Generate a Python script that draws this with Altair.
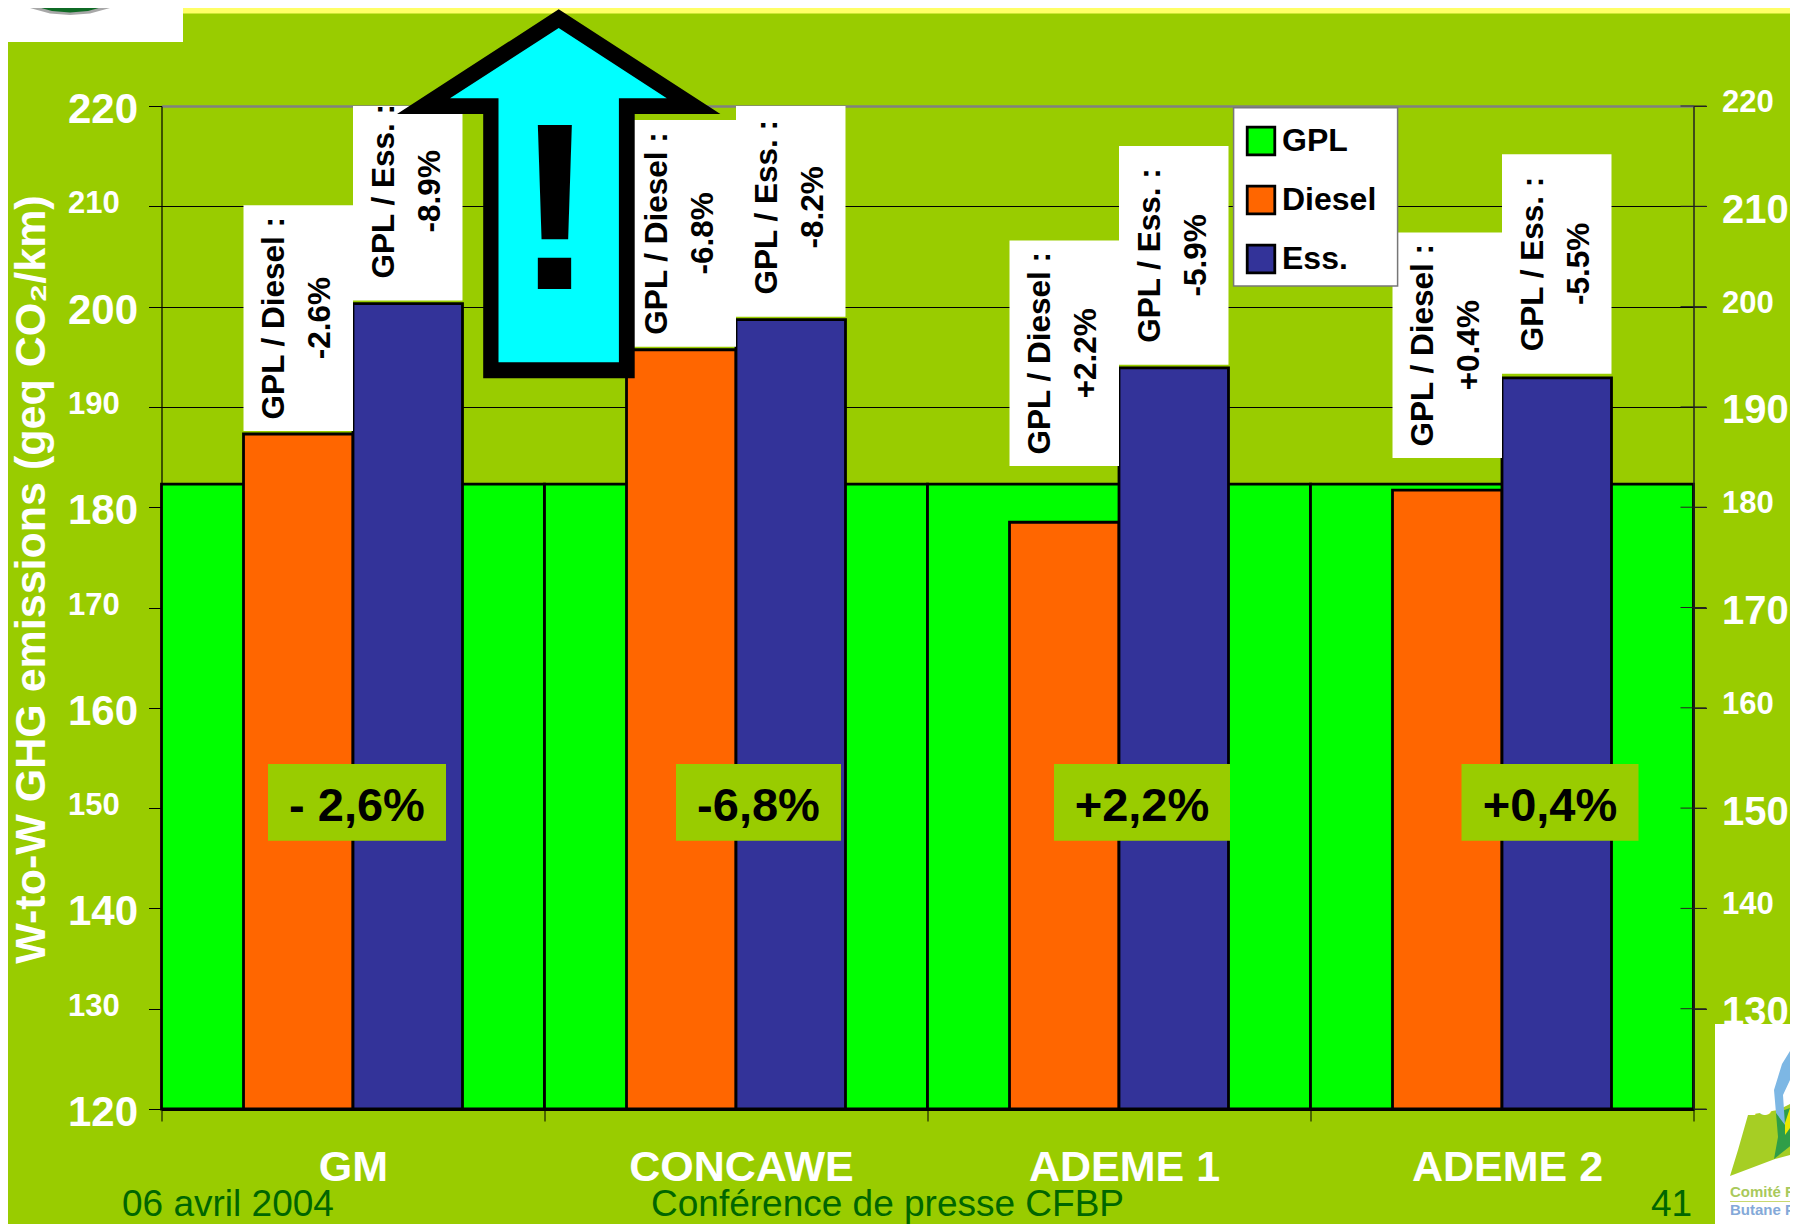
import altair as alt
import pandas as pd

STUDIES = ["GM", "CONCAWE", "ADEME 1", "ADEME 2"]
GPL = [182.3, 182.3, 182.3, 182.3]
DIESEL = [187.3, 195.7, 178.5, 181.7]
ESS = [200.3, 198.7, 193.9, 192.9]
DIESEL_NOTES = ["-2.6%", "-6.8%", "+2.2%", "+0.4%"]
ESS_NOTES = ["-8.9%", "-8.2%", "-5.9%", "-5.5%"]
DIESEL_BOX_LOW = [187.6, 196.0, 184.1, 184.9]
DIESEL_BOX_HIGH = [210.1, 218.6, 206.6, 207.4]
ESS_BOX_LOW = [200.6, 199.0, 194.2, 193.3]
ESS_BOX_HIGH = [222.4, 220.8, 216.0, 215.2]
GAPS = ["- 2,6%", "-6,8%", "+2,2%", "+0,4%"]
GAP_LOW = 146.75
GAP_HIGH = 154.4
FUELS = ["GPL", "Diesel", "Ess."]
TICKS = [120, 130, 140, 150, 160, 170, 180, 190, 200, 210, 220]

BG = "#99CC00"
FONT = "Liberation Sans"
PLOT_X, PLOT_Y, W, H = 161.5, 106, 1532, 1003
GAP_OFFSET = [4, 22.5, 23, 48]
GAP_WIDTH = [178, 165, 176, 177]
FOOT_Y = 1216

Y = alt.Scale(domain=[120, 220], nice=False, zero=False, clamp=True)
X = alt.Scale(domain=STUDIES, paddingInner=0, paddingOuter=0)
XO = alt.XOffset("fuel:N", scale=alt.Scale(domain=["Diesel", "Ess."], paddingInner=0, paddingOuter=0.749))
COLOR = alt.Scale(domain=FUELS, range=["#00FF00", "#FF6600", "#333399"])


def px(x):
    return x - PLOT_X


def py(y):
    return y - PLOT_Y


one = pd.DataFrame({"a": [0]})


def rect(x0, y0, x1, y1, color, **kw):
    return alt.Chart(one).mark_rect(color=color, opacity=1, **kw).encode(
        x=alt.value(px(x0)), x2=alt.value(px(x1)), y=alt.value(py(y0)), y2=alt.value(py(y1)))


def poly(points, color, ax=0, ay=0):
    d = "M" + "L".join(f"{a - ax:.1f},{b - ay:.1f}" for a, b in points) + "Z"
    return alt.Chart(one).mark_point(shape=d, size=4, filled=True, fill=color, opacity=1, strokeWidth=0).encode(
        x=alt.value(px(ax)), y=alt.value(py(ay)))


def label(txt, x, y, size, color, weight="normal", font=FONT, align="left"):
    return alt.Chart(one).mark_text(text=txt, fontSize=size, color=color, fontWeight=weight, font=font,
                                    align=align, baseline="alphabetic").encode(
        x=alt.value(px(x)), y=alt.value(py(y)))


gpl_df = pd.DataFrame({"study": STUDIES, "value": GPL, "fuel": "GPL"})
bars_df = pd.DataFrame({"study": STUDIES * 2, "value": DIESEL + ESS,
                        "fuel": ["Diesel"] * 4 + ["Ess."] * 4})
boxes_df = pd.DataFrame({
    "study": STUDIES * 2,
    "fuel": ["Diesel"] * 4 + ["Ess."] * 4,
    "low": DIESEL_BOX_LOW + ESS_BOX_LOW,
    "high": DIESEL_BOX_HIGH + ESS_BOX_HIGH,
    "note": ["GPL / Diesel :\n" + n for n in DIESEL_NOTES] + ["GPL / Ess. :\n" + n for n in ESS_NOTES],
})
boxes_df["mid"] = (boxes_df["low"] + boxes_df["high"]) / 2

big_left = "(datum.value - 120) % 20 == 0"

x_axis = alt.Axis(title=None, labelFont=FONT, labelFontSize=43, labelFontWeight="bold", labelColor="white",
                  labelAngle=0, labelPadding=25, labelLimit=500,
                  labelOffset=alt.condition("datum.value == 'GM'", alt.value(0), alt.value(5)),
                  tickBand="extent", tickColor="black", tickSize=12,
                  tickWidth=1, domainColor="black", domainWidth=2.8, grid=False, zindex=1)
X_ENC = alt.X("study:N", scale=X, sort=STUDIES, axis=x_axis)

left_axis = alt.Axis(
    values=TICKS, orient="left", title="W-to-W GHG emissions (geq CO₂/km)", titleFont=FONT, titleFontSize=43,
    titleFontWeight="bold", titleColor="white", titleAngle=270, titleAlign="center", titleBaseline="middle",
    titleX=31 - PLOT_X, titleY=579 - PLOT_Y, labelFont=FONT, labelFontWeight="bold", labelColor="white",
    labelFontSize=alt.condition(big_left, alt.value(42), alt.value(31)),
    labelOffset=alt.condition(big_left, alt.value(3.5), alt.value(-2.5)),
    labelAlign="left", labelBaseline="middle", labelPadding=81, tickColor="black", tickSize=13, tickWidth=1,
    domainColor="black", domainWidth=1.2, grid=True, gridColor=alt.condition("datum.value == 220", alt.value("#808080"), alt.value("black")),
    gridWidth=alt.condition("datum.value == 220", alt.value(2.5), alt.value(1)), gridOpacity=1)
right_axis = alt.Axis(
    values=TICKS, orient="right", title=None, labelFont=FONT, labelFontWeight="bold", labelColor="white",
    labelFontSize=alt.condition(big_left, alt.value(31), alt.value(40)),
    labelOffset=alt.condition(big_left, alt.value(-3.5), alt.value(4)),
    labelAlign="left", labelBaseline="middle", labelPadding=15, tickColor="#222222", tickSize=13, tickWidth=1,
    domainColor="#222222", domainWidth=1.5, grid=False, zindex=1)

legend = alt.Legend(title=None, orient="none", legendX=1245 - PLOT_X, legendY=125 - PLOT_Y, padding=0, labelFont=FONT,
                    labelFontSize=32, labelFontWeight="bold", labelColor="black", symbolType="square", symbolSize=760,
                    symbolStrokeColor="black", symbolStrokeWidth=2.8, symbolOpacity=1, rowPadding=19, labelOffset=5,
                    labelLimit=300)

gpl_bars = alt.Chart(gpl_df).mark_bar(stroke="black", strokeWidth=2.8, opacity=1).encode(
    x=X_ENC,
    y=alt.Y("value:Q", scale=Y, axis=left_axis),
    color=alt.Color("fuel:N", scale=COLOR, legend=legend),
)
fuel_bars = alt.Chart(bars_df).mark_bar(stroke="black", strokeWidth=2.8, opacity=1).encode(
    x=X_ENC,
    xOffset=XO,
    y=alt.Y("value:Q", scale=Y, axis=None),
    color=alt.Color("fuel:N", scale=COLOR, legend=legend),
)
note_boxes = alt.Chart(boxes_df).mark_bar(color="white", opacity=1).encode(
    x=X_ENC,
    xOffset=XO,
    y=alt.Y("low:Q", scale=Y, axis=None),
    y2="high:Q",
)
note_text = alt.Chart(boxes_df).mark_text(angle=270, lineBreak="\n", lineHeight=46, font=FONT, fontSize=31.5,
                                          fontWeight="bold", color="black", align="center", baseline="middle",
                                          dy=-23).encode(
    x=X_ENC,
    xOffset=XO,
    y=alt.Y("mid:Q", scale=Y, axis=None),
    text="note:N",
)

gap_layers = []
for s, g, off, wid in zip(STUDIES, GAPS, GAP_OFFSET, GAP_WIDTH):
    d = pd.DataFrame({"study": [s], "low": [GAP_LOW], "high": [GAP_HIGH], "gap": [g]})
    d["mid"] = (d["low"] + d["high"]) / 2
    gap_layers.append(alt.Chart(d).mark_bar(color=BG, opacity=1, width=wid, xOffset=off).encode(
        x=X_ENC, y=alt.Y("low:Q", scale=Y, axis=None), y2="high:Q"))
    gap_layers.append(alt.Chart(d).mark_text(font=FONT, fontSize=47, fontWeight="bold", color="black", dx=off, dy=5,
                                             align="center", baseline="middle").encode(
        x=X_ENC, y=alt.Y("mid:Q", scale=Y, axis=None), text="gap:N"))

arrow_out = [(558.7, 9.3), (720.4, 114), (634.7, 114), (634.7, 378.3), (483.2, 378.3), (483.2, 114), (397, 114)]
arrow_in = [(558.7, 28), (666.8, 98.3), (618.9, 98.3), (618.9, 362.3), (498.5, 362.3), (498.5, 98.3), (450, 98.3)]

header = [
    rect(183, 0, 1798, 5.5, "#339966"),
    rect(183, 6, 1798, 13.5, "#FFFF66"),
    rect(0, 0, 183, 42, "white"),
    poly([(18, 0), (30, 8), (50, 13.5), (70, 15), (90, 13.5), (110, 8), (123, 0)], "#A8A8A8", 70, 8),
    poly([(24, 0), (34, 6), (52, 11), (70, 12.5), (88, 11), (106, 6), (117, 0)], "#0F6B25", 70, 8),
]
arrow = [
    poly(arrow_out, "black", 558.7, 200),
    poly(arrow_in, "#00FFFF", 558.7, 200),
    alt.Chart(one).mark_text(text="!", font=FONT, fontWeight="bold", fontSize=237, color="black",
                             align="center", baseline="alphabetic").encode(
        x=alt.value(px(555)), y=alt.value(py(289))),
]
footer = [
    label("06 avril 2004", 122, FOOT_Y, 37, "#006600"),
    label("Conférence de presse CFBP", 651, FOOT_Y, 37, "#006600"),
    label("41", 1651, FOOT_Y, 37, "#006600"),
]
logo = [
    rect(1715, 1024, 1798, 1227, "white"),
    poly([(1730, 1176), (1738, 1150), (1748, 1115), (1778, 1110), (1798, 1100), (1798, 1153), (1775, 1159)], "#A6CE24", 1750, 1130),
    poly([(1774, 1159), (1778, 1137), (1776, 1113), (1798, 1105), (1798, 1140)], "#2F9E48", 1750, 1130),
    poly([(1798, 1038), (1782, 1064), (1774, 1090), (1776, 1113), (1785, 1125), (1783, 1095), (1798, 1063)], "#7DB7E4", 1750, 1130),
    poly([(1785, 1135), (1785, 1123), (1791, 1105), (1798, 1103), (1798, 1117)], "#E8E800", 1750, 1130),
    label("Comité Fr", 1730, 1197, 15, "#A9C95B", "bold"),
    rect(1730, 1201, 1798, 1202, "#C8D870"),
    label("Butane P", 1730, 1215, 15, "#84A9D8", "bold"),
]
legend_box = rect(1233.6, 107.7, 1397.6, 286, "white", stroke="#777777", strokeWidth=1.5)

tick_df = pd.DataFrame({"tick": TICKS})
right = alt.Chart(tick_df).mark_tick(orient="horizontal", size=26, thickness=1, color="#222222", opacity=1).encode(
    x=alt.value(W),
    y=alt.Y("tick:Q", scale=Y, axis=right_axis),
)

chart = alt.layer(
    *header, gpl_bars, fuel_bars, note_boxes, note_text, legend_box, *gap_layers, *arrow, *footer, *logo, right
).resolve_scale(y="independent").properties(
    width=W, height=H,
    autosize=alt.AutoSizeParams(type="none"),
    padding={"left": PLOT_X - 8, "top": PLOT_Y - 8, "right": 1798 - 8 - PLOT_X - W, "bottom": 1232 - 8 - PLOT_Y - H},
    background=BG,
).configure_view(stroke=None)

chart.save("out.html", embed_options={"renderer": "svg", "actions": False})
